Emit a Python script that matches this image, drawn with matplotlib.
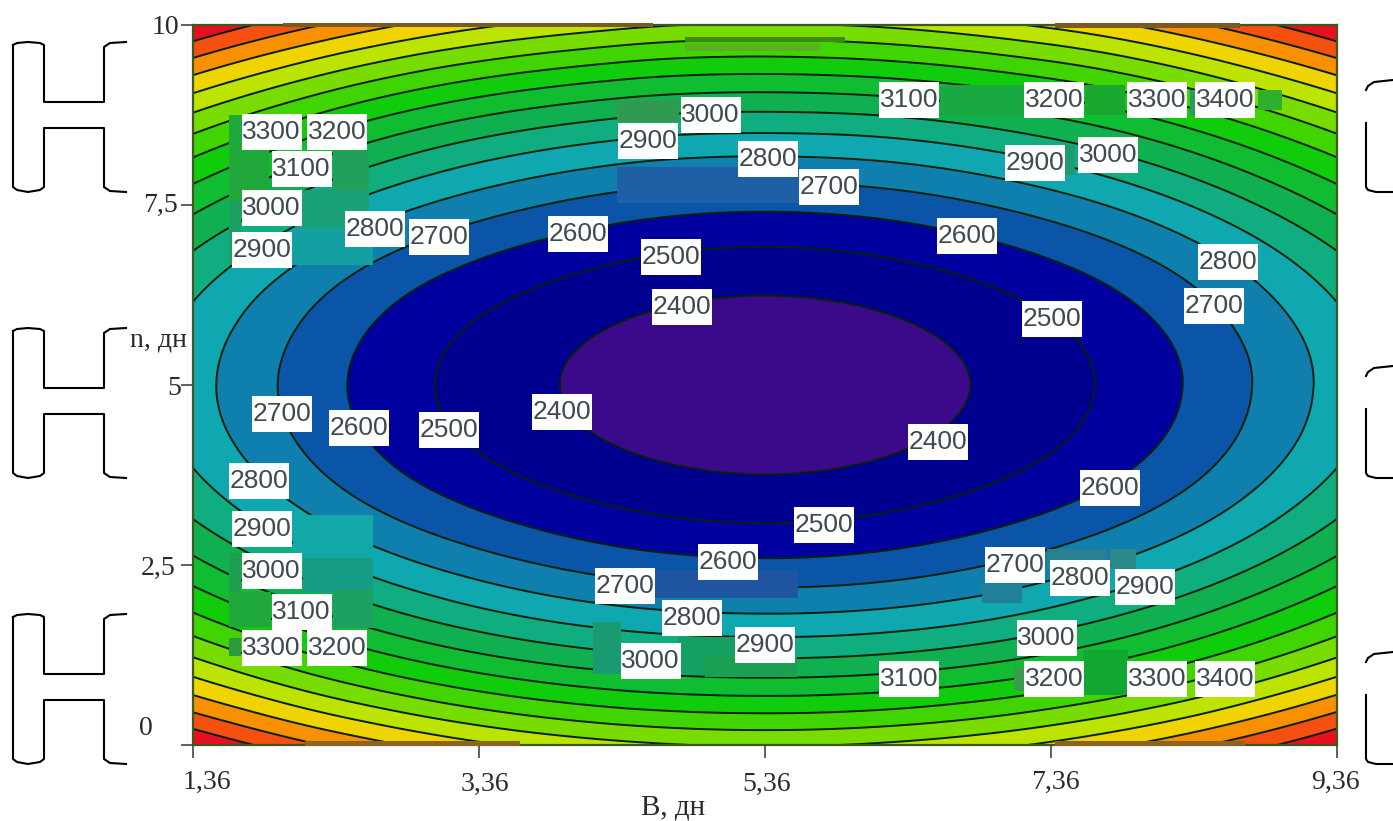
import matplotlib
matplotlib.use('Agg')
import matplotlib.pyplot as plt
import matplotlib.tri as mtri
import numpy as np
from matplotlib.lines import Line2D
from matplotlib.patches import Rectangle
from matplotlib.transforms import ScaledTranslation

# values
b_days = [1.36, 2.36, 3.36, 4.36, 5.36, 6.36, 7.36, 8.36, 9.36]
n_days = [0, 1, 2, 3, 4, 5, 6, 7, 8, 9, 10]
cost = [
    [4000, 3780, 3620, 3525, 3490, 3525, 3620, 3780, 4000],
    [3580, 3360, 3200, 3105, 3075, 3105, 3200, 3360, 3580],
    [3255, 3035, 2875, 2780, 2750, 2780, 2875, 3035, 3255],
    [3025, 2800, 2645, 2550, 2515, 2550, 2645, 2800, 3025],
    [2885, 2660, 2505, 2410, 2375, 2410, 2505, 2660, 2885],
    [2840, 2615, 2460, 2365, 2330, 2365, 2460, 2615, 2840],
    [2885, 2660, 2505, 2410, 2375, 2410, 2505, 2660, 2885],
    [3025, 2800, 2645, 2550, 2515, 2550, 2645, 2800, 3025],
    [3255, 3035, 2875, 2780, 2750, 2780, 2875, 3035, 3255],
    [3580, 3360, 3200, 3105, 3075, 3105, 3200, 3360, 3580],
    [4000, 3780, 3620, 3525, 3490, 3525, 3620, 3780, 4000],
]
line_levels = [2400, 2500, 2600, 2700, 2800, 2900, 3000, 3100, 3200, 3300,
               3400, 3500, 3600, 3700, 3800, 3900]
fill_levels = [2200] + line_levels + [4100]
band_colors = ['#3a0a8a', '#000090', '#00009e', '#0a55a8', '#0f80ae', '#10a8b0',
               '#10ad80', '#10b050', '#10bc30', '#10cc0a', '#40d400', '#78dc00',
               '#bce400', '#f0d400', '#f89000', '#f55010', '#e81020']

label_text = [3300, 3200, 3100, 3000, 2900, 2800, 2700, 2600, 2500, 2400,
              2900, 3000, 2800, 2700, 3100, 3200, 3300, 3400, 2900, 3000,
              2600, 2800, 2700, 2500, 2700, 2600, 2500, 2400, 2400, 2600,
              2500, 2800, 2900, 3000, 3100, 3300, 3200, 2600, 2700, 2800,
              2900, 3000, 3100, 3000, 2700, 2800, 2900, 3200, 3300, 3400]
label_b = [1.91, 2.37, 2.12, 1.91, 1.84, 2.63, 3.08, 4.05, 4.70, 4.78,
           4.54, 4.98, 5.38, 5.81, 6.37, 7.38, 8.10, 8.58, 7.25, 7.76,
           6.77, 8.60, 8.50, 7.37, 1.98, 2.52, 3.15, 3.94, 6.57, 7.77,
           5.77, 1.82, 1.84, 1.91, 2.12, 1.91, 2.37, 5.10, 4.38, 4.85,
           5.36, 4.56, 6.37, 7.33, 7.11, 7.56, 8.02, 7.38, 8.10, 8.58]
label_n = [8.51, 8.51, 8.00, 7.46, 6.88, 7.17, 7.06, 7.10, 6.78, 6.08,
           8.39, 8.75, 8.14, 7.75, 8.96, 8.96, 8.96, 8.96, 8.08, 8.19,
           7.07, 6.71, 6.10, 5.92, 4.60, 4.40, 4.38, 4.63, 4.21, 3.57,
           3.06, 3.67, 3.00, 2.42, 1.85, 1.35, 1.35, 2.54, 2.21, 1.76,
           1.39, 1.17, 0.92, 1.49, 2.50, 2.32, 2.19, 0.92, 0.92, 0.92]

x_ticks = [1.36, 3.36, 5.36, 7.36, 9.36]
x_tick_labels = ['1,36', '3,36', '5,36', '7,36', '9,36']
y_ticks = [0, 2.5, 5, 7.5, 10]
y_tick_labels = ['0', '2,5', '5', '7,5', '10']

W, H = 1393, 821
plt.rcParams['font.family'] = ['Liberation Serif', 'DejaVu Serif']

fig = plt.figure(figsize=(W / 100, H / 100), dpi=100, facecolor='white')
ax = fig.add_axes([193 / W, 1 - 745 / H, (1337 - 193) / W, (745 - 25) / H])


def to_data(px, py):
    # picture pixels -> axis values, for the scan smudges only
    return 1.36 + (px - 193) / 143.0, (745 - py) / 72.0


def smudge(px, py, w, h, color, zorder=3, clip=True):
    x0, y1 = to_data(px, py)
    x1, y0 = to_data(px + w, py + h)
    ax.add_patch(Rectangle((x0, y0), x1 - x0, y1 - y0, facecolor=color, edgecolor='none',
                           zorder=zorder, clip_on=clip))


def fig_line(xs, ys, dy=0, lw=1.5):
    fig.add_artist(Line2D(np.array(xs) / W, 1 - (np.array(ys) + dy) / H, color='black', lw=lw,
                          transform=fig.transFigure))


bb, nn = np.meshgrid(b_days, n_days)
tri = mtri.Triangulation(bb.ravel(), nn.ravel())
refiner = mtri.UniformTriRefiner(tri)
fine_tri, fine_z = refiner.refine_field(np.array(cost, dtype=float).ravel(), subdiv=4)

ax.tricontourf(fine_tri, fine_z, levels=fill_levels, colors=band_colors)
ax.tricontour(fine_tri, fine_z, levels=line_levels, colors='#06200a', linewidths=1.4)

ax.set_xlim(1.36, 9.36)
ax.set_ylim(0, 10)

# smudges left by the scan around the contour labels
smudge(229, 115, 40, 85, '#20a83a')
smudge(229, 200, 12, 65, '#1aa060')
smudge(333, 150, 36, 45, '#20a058')
smudge(295, 190, 74, 38, '#1aa078')
smudge(293, 228, 80, 37, '#14a0a0')
smudge(229, 553, 12, 40, '#1ca050')
smudge(229, 592, 42, 35, '#1fa83c')
smudge(229, 638, 12, 18, '#2a9a40')
smudge(303, 558, 70, 34, '#159d85')
smudge(333, 590, 40, 38, '#1ea060')
smudge(293, 515, 80, 43, '#12a8a8')
smudge(617, 100, 62, 22, '#2f9a50')
smudge(617, 167, 183, 36, '#1f5fa5')
smudge(940, 85, 85, 30, '#1aa840')
smudge(1085, 85, 40, 30, '#1aa830')
smudge(1190, 90, 6, 25, '#2a9a60')
smudge(1258, 90, 24, 20, '#2fb02a')
smudge(1065, 145, 10, 30, '#209a70')
smudge(655, 571, 143, 27, '#1f55a0')
smudge(593, 622, 28, 52, '#1a9a70')
smudge(678, 637, 60, 38, '#14a065')
smudge(705, 655, 92, 22, '#1aa050')
smudge(982, 585, 40, 18, '#20809a')
smudge(1047, 549, 60, 20, '#2a8090')
smudge(1110, 549, 26, 20, '#2a8888')
smudge(1083, 650, 45, 45, '#10a830')
smudge(1014, 667, 10, 24, '#3a9a50')
smudge(685, 37, 160, 5, '#3e8a18')
smudge(685, 44, 135, 7, '#5fae20')

# brown burn along the top and bottom edge
smudge(283, 23, 370, 4, '#7a5a20', zorder=4, clip=False)
smudge(1055, 23, 185, 5, '#7a5a20', zorder=4, clip=False)
smudge(305, 741, 215, 5, '#8a6420', zorder=4, clip=False)
smudge(1055, 741, 190, 5, '#8a6420', zorder=4, clip=False)

box_w, box_h = 60 / 143.0, 36 / 72.0
for value, b, n in zip(label_text, label_b, label_n):
    ax.add_patch(Rectangle((b - box_w / 2, n - box_h / 2), box_w, box_h, facecolor='white',
                           edgecolor='none', zorder=5))
    ax.text(b, n, str(value), family='Liberation Sans', fontsize=19, color='#3d4a50',
            ha='center', va='center', zorder=6)

for side in ['left', 'right', 'top', 'bottom']:
    ax.spines[side].set_color('#3a5a20')
    ax.spines[side].set_linewidth(1.6)

ax.set_xticks(x_ticks)
ax.set_xticklabels(x_tick_labels, fontsize=20, color='#2a2a2a')
ax.set_yticks(y_ticks)
ax.set_yticklabels(y_tick_labels, fontsize=20, color='#2a2a2a')
ax.tick_params(axis='both', length=9, width=1.2, color='#444444', pad=3)

# the labels do not sit centred on their ticks in the original
x_shift = [14, 6, 2, 4, -2]
x_drop = [-8, -10, -10, -8, -8]
y_shift = [-24, -1, 5, 2, 3]
y_lift = [20, 0, 0, 3, 0]
for lab, dx, dy in zip(ax.get_xticklabels(), x_shift, x_drop):
    lab.set_transform(lab.get_transform() + ScaledTranslation(dx / 100, dy / 100, fig.dpi_scale_trans))
for lab, dx, dy in zip(ax.get_yticklabels(), y_shift, y_lift):
    lab.set_transform(lab.get_transform() + ScaledTranslation(dx / 100, dy / 100, fig.dpi_scale_trans))

fig.text(673 / W, 1 - 807 / H, 'B, дн', fontsize=21, color='#2a2a2a', ha='center', va='center')
fig.text(159 / W, 1 - 340 / H, 'n, дн', fontsize=20, color='#2a2a2a', ha='center', va='center')

# page furniture cut off by the scan: H outlines on the left, brackets on the right
for dy in [0, 286, 572]:
    fig_line([13, 17, 28, 40, 44, 44, 104, 104, 110, 126], [45, 43, 42, 43, 45, 102, 102, 47, 43, 42], dy)
    fig_line([13, 13, 17, 28, 40, 44, 44, 104, 104, 110, 126],
             [45, 187, 190, 192, 190, 187, 128, 128, 187, 191, 192], dy)
    fig_line([1366, 1368, 1374, 1393], [90, 86, 82, 80], dy)
    fig_line([1366, 1366, 1368, 1376, 1393], [123, 187, 190, 192, 192], dy)

fig.savefig('out.png', dpi=100)
